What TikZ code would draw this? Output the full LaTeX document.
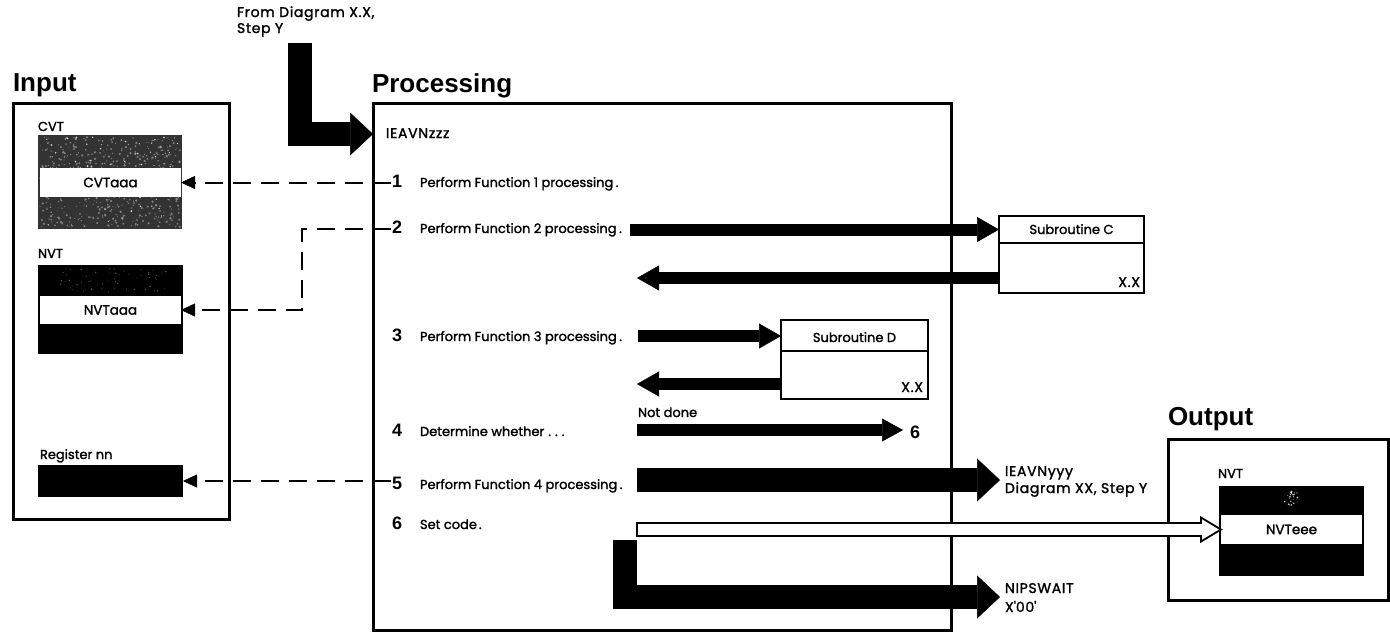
\documentclass[tikz,border=0pt]{standalone}
\usepackage{fontspec}
\setmainfont{Poppins}[UprightFeatures={FakeBold=1.6}]
\newfontfamily\headfont{Liberation Sans}
\newfontfamily\widefont{Poppins}[UprightFeatures={FakeBold=1.6}, LetterSpace=5]
\usetikzlibrary{arrows.meta,calc}

\begin{document}
\begin{tikzpicture}[x=1pt,y=-1pt,
  every node/.style={inner sep=0pt, outer sep=0pt},
  panel/.style={draw, line width=3pt, anchor=north west},
  subbox/.style={draw, line width=2pt, anchor=north west},
  block/.style={anchor=north west},
  band/.style={fill=white, anchor=north west, font=\fontsize{13.5}{15}\selectfont},
  title/.style={font=\headfont\bfseries\fontsize{26}{28}\selectfont, anchor=base west},
  num/.style={font=\headfont\bfseries\fontsize{18}{20}\selectfont, anchor=base west},
  txt/.style={font=\fontsize{13}{15}\selectfont, anchor=base west},
  captxt/.style={font=\widefont\fontsize{14}{16}\selectfont, anchor=base west},
  dashconn/.style={line width=2pt, dash pattern=on 18pt off 10pt,
    -{Triangle[length=14pt,width=13pt,line width=0.5pt]}},
  callarrow/.style={line width=12pt,
    -{Triangle[length=22pt,width=25pt,line width=0.5pt]}},
  skiparrow/.style={line width=12pt,
    -{Triangle[length=21pt,width=23pt,line width=0.5pt]}},
  heavyarrow/.style={line width=24pt, line join=miter,
    -{Triangle[length=23pt,width=43pt,line width=0.5pt]}},
]
\fill[white] (0,0) rectangle (1390,633);
\useasboundingbox (0,0) rectangle (1390,633);

% ---------- titles and panels ----------
\node[title] (tin)  at (13,91)   {Input};
\node[title] (tpro) at (372,92)  {Processing};
\node[title] (tout) at (1168,425){Output};

\node[panel, minimum width=216, minimum height=416] (inbox)   at (13,103) {};
\node[panel, minimum width=578, minimum height=527] (procbox) at (373,103) {};
\node[panel, minimum width=220, minimum height=161] (outbox)  at (1168,439) {};

% ---------- input data areas ----------
\node[txt] (cvtlbl) at (38,131) {CVT};
\node[block, fill=black!80, minimum width=144, minimum height=94] (cvt) at (38,135) {};
\pgfmathsetseed{41}
\foreach \i in {1,...,520}{
  \fill[black!30, opacity=0.6]
    ({38+2+140*rnd},{135+2+90*rnd}) circle ({0.4+0.9*rnd});
}
\foreach \i in {1,...,120}{
  \fill[white, opacity=0.8]
    ({38+3+138*rnd},{135+2+90*rnd}) circle ({0.3+0.6*rnd});
}
\node[band, minimum width=141, minimum height=29, text width=124, align=center]
  (cvtband) at (40,168) {CVTaaa};

\node[txt] (nvtlbl) at (38,258) {NVT};
\node[block, fill=black, minimum width=145, minimum height=89] (nvt) at (38,265) {};
\foreach \i in {1,...,60}{
  \fill[black!45, opacity=0.7]
    ({38+20+110*rnd},{265+3+24*rnd}) circle ({0.3+0.5*rnd});
}
\node[band, minimum width=141, minimum height=28] (nvtband) at (40,296) {NVTaaa};

\node[txt] (reglbl) at (40,459) {Register nn};
\node[block, fill=black, minimum width=145, minimum height=32] (reg) at (38,465) {};

% ---------- output data area ----------
\node[txt] (onvtlbl) at (1218,478) {NVT};
\node[block, fill=black, minimum width=145, minimum height=90] (onvt) at (1219,486) {};
\foreach \i in {1,...,24}{
  \fill[white, opacity=0.8]
    ({1284+14*rnd},{491+14*rnd}) circle ({0.4+0.6*rnd});
}
\node[band, minimum width=141, minimum height=29] (onvtband) at (1221,515) {NVTeee};

% ---------- processing steps ----------
\node[captxt] (entryname) at (386,138) {IEAVNzzz};

\node[num] (n1) at (392,187) {1};
\node[txt] (s1) at (420,187) {Perform Function 1 processing\hspace{2.5pt}.};
\node[num] (n2) at (392,233) {2};
\node[txt] (s2) at (420,233) {Perform Function 2 processing\hspace{2.5pt}.};
\node[num] (n3) at (392,341) {3};
\node[txt] (s3) at (420,341) {Perform Function 3 processing\hspace{2.5pt}.};
\node[num] (n4) at (392,436) {4};
\node[txt] (s4) at (420,436) {Determine whether\hspace{4pt}.\hspace{4pt}.\hspace{4pt}.};
\node[num] (n5) at (392,489) {5};
\node[txt] (s5) at (420,489) {Perform Function 4 processing\hspace{2.5pt}.};
\node[num] (n6) at (392,529) {6};
\node[txt] (s6) at (420,529) {Set code\hspace{2pt}.};

% ---------- subroutines ----------
\node[subbox, minimum width=145, minimum height=77] (subC) at (999,216) {};
\draw[line width=1.5pt] ($(subC.north west)+(0,27)$) -- ($(subC.north east)+(0,27)$);
\node[txt, anchor=base] (subCname) at ($(subC.north)+(0,18)$) {Subroutine C};
\node[captxt, anchor=base east] (subCref) at ($(subC.south east)+(-4,-6)$) {X.X};

\node[subbox, minimum width=147, minimum height=79] (subD) at (781,320) {};
\draw[line width=1.5pt] ($(subD.north west)+(0,31)$) -- ($(subD.north east)+(0,31)$);
\node[txt, anchor=base] (subDname) at ($(subD.north)+(0,22)$) {Subroutine D};
\node[captxt, anchor=base east] (subDref) at ($(subD.south east)+(-5,-7)$) {X.X};

% ---------- exits ----------
\node[txt] (notdone) at (638,417) {Not done};
\node[num] (six) at (910,438) {6};
\node[captxt] (exit5a) at (1005,476) {IEAVNyyy};
\node[captxt] (exit5b) at (1005,493) {Diagram XX, Step Y};
\node[captxt] (exitwa) at (1005,593) {NIPSWAIT};
\node[captxt] (exitwb) at (1005,612) {X\textquotesingle 00\textquotesingle};
\node[captxt] (from1) at (237,17) {From Diagram X.X,};
\node[captxt] (from2) at (237,33) {Step Y};

% ---------- connector anchors ----------
\coordinate (entrytop) at (300,43);
\coordinate (entrytip) at (373,134);
\coordinate (d1) at (391,182.5);
\coordinate (d2) at (391,229);
\coordinate (d2bend) at (302,229);
\coordinate (d5) at (391,481);
\coordinate (c2) at (630,229.5);
\coordinate (r2) at (637,278);
\coordinate (c3) at (638,336);
\coordinate (r3) at (637,384);
\coordinate (k4) at (637,430);
\coordinate (k5) at (637,480);
\coordinate (t5) at (1000,480);
\coordinate (w6) at (625,540);
\coordinate (t6) at (1000,597);
\coordinate (h6) at (637,529.5);

% ---------- data references ----------
\draw[dashconn] (d1) -- (d1 -| cvtband.east);
\draw[dashconn] (d2) -- (d2bend) |- (nvtband.east);
\draw[dashconn] (d5) -- (d5 -| reg.east);

% ---------- control flow ----------
\draw[heavyarrow] (entrytop) |- (entrytip);
\draw[callarrow] (c2) -- (c2 -| subC.west);
\draw[callarrow] (r2 -| subC.west) -- (r2);
\draw[callarrow] (c3) -- (c3 -| subD.west);
\draw[callarrow] (r3 -| subD.west) -- (r3);
\draw[skiparrow] (k4) -- ([xshift=-7pt]k4 -| six.west);
\draw[heavyarrow] (k5) -- (t5);
\draw[heavyarrow] (w6) |- (t6);

% hollow arrow: step 6 sets the output field
\draw[fill=white, line width=1.8pt, line join=miter]
  ($(h6)+(0,-6.5)$) -- ($(h6 -| onvtband.west)+(-20,-6.5)$)
  -- ($(h6 -| onvtband.west)+(-20,-12)$) -- (h6 -| onvtband.west)
  -- ($(h6 -| onvtband.west)+(-20,12)$) -- ($(h6 -| onvtband.west)+(-20,6.5)$)
  -- ($(h6)+(0,6.5)$) -- cycle;
\end{tikzpicture}
\end{document}
